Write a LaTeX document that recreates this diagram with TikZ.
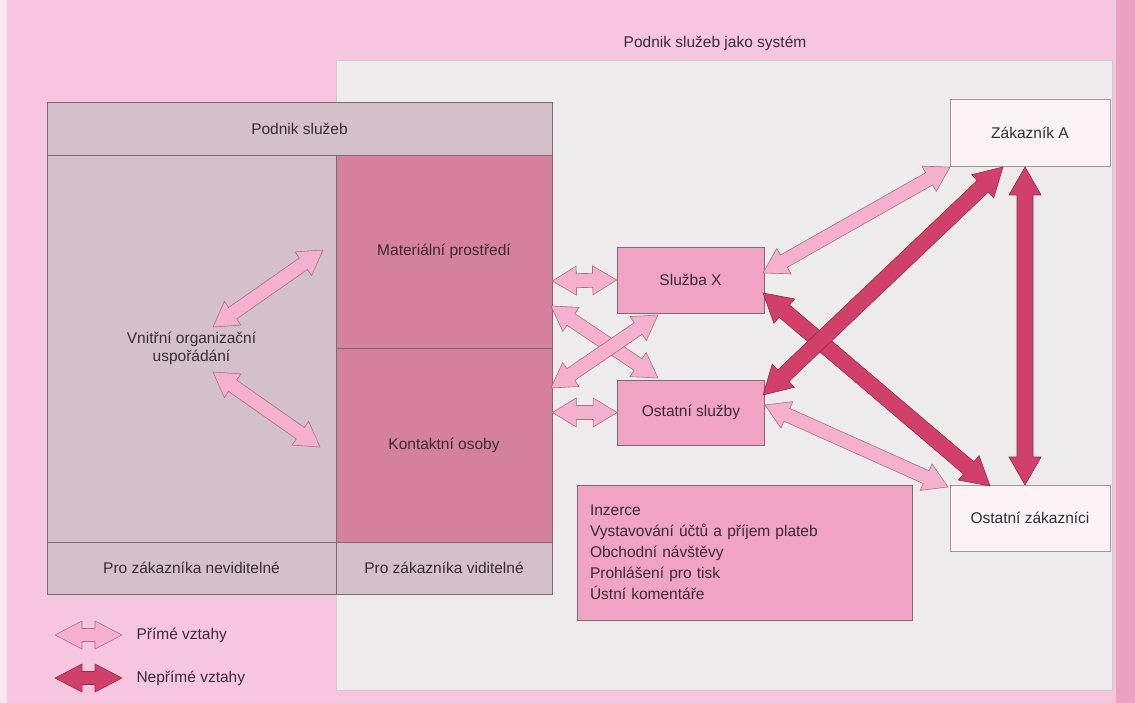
\documentclass[tikz,border=0pt]{standalone}
\usepackage{fontspec}
\setmainfont{Liberation Sans}
\usetikzlibrary{calc}
\definecolor{bgpink}{HTML}{F5C6DE}
\definecolor{edgepink}{HTML}{EBA2C1}
\definecolor{panelc}{HTML}{EEEBEC}
\definecolor{greyc}{HTML}{D4C0C8}
\definecolor{darkc}{HTML}{D5819D}
\definecolor{boxpink}{HTML}{F0A3C3}
\definecolor{custc}{HTML}{FBF2F6}
\definecolor{linec}{HTML}{7D6A72}
\definecolor{txtc}{HTML}{3A2A34}
\definecolor{lightarr}{HTML}{F5B0CD}
\definecolor{lightarrline}{HTML}{A87080}
\definecolor{darkarr}{HTML}{D13F6B}
\definecolor{darkarrline}{HTML}{952A4C}
\tikzset{
  txt/.style={font=\fontsize{15.5}{18}\selectfont, text=txtc},
  cell/.style={txt, draw=linec, line width=0.7pt, inner sep=0pt, align=center},
  greycell/.style={cell, fill=greyc},
  darkcell/.style={cell, fill=darkc},
  pinkbox/.style={cell, fill=boxpink},
  custbox/.style={cell, fill=custc, draw=linec!70},
  lightA/.style={fill=lightarr, draw=lightarrline, line width=0.6pt},
  darkA/.style={fill=darkarr, draw=darkarrline, line width=0.6pt},
}
\newcommand\blockarrow[6]{%
  \coordinate (tP) at ($(#2)!#4!(#3)$);
  \coordinate (tQ) at ($(#3)!#4!(#2)$);
  \draw[#1] (#2)
    -- ($(tP)!#5!90:(#3)$) -- ($(tP)!#6!90:(#3)$)
    -- ($(tQ)!#6!90:(#3)$) -- ($(tQ)!#5!90:(#3)$)
    -- (#3)
    -- ($(tQ)!#5!-90:(#3)$) -- ($(tQ)!#6!-90:(#3)$)
    -- ($(tP)!#6!-90:(#3)$) -- ($(tP)!#5!-90:(#3)$)
    -- cycle;}
\newcommand\lightarrow[2]{\blockarrow{lightA}{#1}{#2}{24pt}{14.5pt}{7pt}}
\newcommand\darkarrow[2]{\blockarrow{darkA}{#1}{#2}{28pt}{16pt}{8pt}}
\begin{document}
\begin{tikzpicture}[x=1pt,y=-1pt]
\useasboundingbox (0,0) rectangle (1135,703);
% background
\fill[bgpink] (0,0) rectangle (1135,703);
\fill[edgepink] (1116,0) rectangle (1135,703);
\fill[white!60!bgpink] (0,0) rectangle (7,703);
% system panel
\node[draw=linec!35, fill=panelc, minimum width=776pt, minimum height=630pt, inner sep=0pt] (sys) at (724,375) {};
\node[txt] (systitle) at (715,43) {Podnik služeb jako systém};
% Podnik sluzeb block
\node[greycell, minimum width=505pt, minimum height=53pt] (hdr) at (299.5,128.5) {Podnik služeb};
\node[greycell, minimum width=289pt, minimum height=387pt] (vnitr) at (191.5,348.5) {Vnitřní organizační\\uspořádání};
\node[darkcell, minimum width=216pt, minimum height=193pt] (mat) at (444,251.5) {Materiální prostředí};
\node[darkcell, minimum width=216pt, minimum height=194pt] (kont) at (444,445) {Kontaktní osoby};
\node[greycell, minimum width=289pt, minimum height=52pt] (inv) at (191.5,568) {Pro zákazníka neviditelné};
\node[greycell, minimum width=216pt, minimum height=52pt] (vis) at (444,568) {Pro zákazníka viditelné};
% right boxes
\node[pinkbox, minimum width=147pt, minimum height=66pt] (sx) at (690.5,280) {Služba X};
\node[pinkbox, minimum width=147pt, minimum height=65pt] (os) at (691,412.5) {Ostatní služby};
\node[custbox, minimum width=160pt, minimum height=67pt] (za) at (1030,132.5) {Zákazník A};
\node[custbox, minimum width=160pt, minimum height=66pt] (oz) at (1030,518) {Ostatní zákazníci};
\node[pinkbox, minimum width=335pt, minimum height=135pt, text width=309pt, align=left,
      font=\fontsize{15.5}{21}\selectfont] (ads) at (744.5,552.5)
  {Inzerce\\Vystavování účtů a příjem plateb\\Obchodní návštěvy\\Prohlášení pro tisk\\Ústní komentáře\\[8pt]};
% arrow end coordinates
\coordinate (v1) at (213,327);  \coordinate (m1) at (323,250);
\coordinate (v2) at (213,372);  \coordinate (k1) at (320,447);
\coordinate (m2) at ($(mat.east)+(0,29.5)$);
\coordinate (m3) at (551,306);  \coordinate (os1) at (658,378);
\coordinate (k2) at (551,388);  \coordinate (sx1) at (658,315);
\coordinate (k3) at (kont.east |- os.west);
\coordinate (sx2) at (763,273); \coordinate (za1) at (950,167);
\coordinate (os2) at (765,405); \coordinate (oz1) at (948,487);
\coordinate (sx3) at (763,293); \coordinate (oz2) at (990,486);
\coordinate (os3) at (763,395); \coordinate (za2) at (1003,167);
\coordinate (za3) at (1025,167); \coordinate (oz3) at (1025,485);
% light arrows
\lightarrow{v1}{m1}
\lightarrow{v2}{k1}
\lightarrow{m2}{sx.west}
\lightarrow{m3}{os1}
\lightarrow{k2}{sx1}
\lightarrow{k3}{os.west}
\lightarrow{sx2}{za1}
\lightarrow{os2}{oz1}
% dark arrows
\darkarrow{sx3}{oz2}
\darkarrow{os3}{za2}
\darkarrow{za3}{oz3}
% legend
\coordinate (l1a) at (55,635); \coordinate (l1b) at (122,635);
\coordinate (l2a) at (55,678); \coordinate (l2b) at (122,678);
\blockarrow{lightA}{l1a}{l1b}{27pt}{14pt}{6.5pt}
\blockarrow{darkA}{l2a}{l2b}{27pt}{14pt}{6.5pt}
\node[txt, anchor=west] (leg1) at (133,635) {Přímé vztahy};
\node[txt, anchor=west] (leg2) at (133,678) {Nepřímé vztahy};
\end{tikzpicture}
\end{document}
